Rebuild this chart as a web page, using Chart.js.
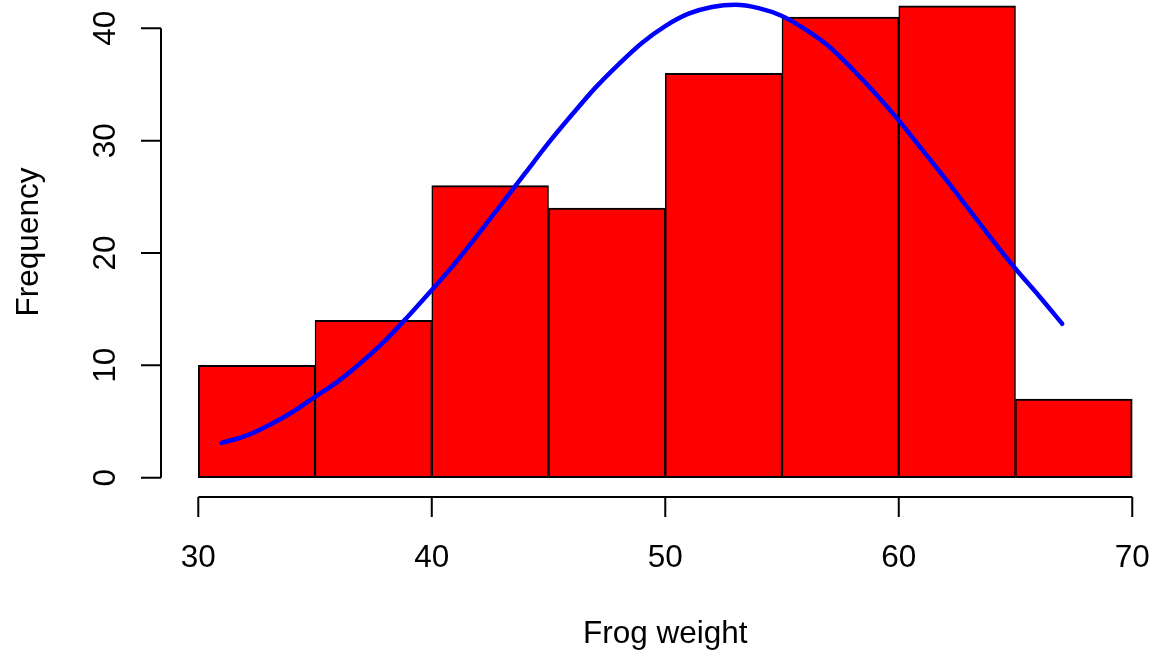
<!DOCTYPE html>
<html>
<head>
<meta charset="utf-8">
<title>Frog weight</title>
<script src="https://cdn.jsdelivr.net/npm/chart.js@4.4.1/dist/chart.umd.min.js"></script>
<style>
  html, body { margin: 0; padding: 0; background: #ffffff; overflow: hidden; }
  #wrap { width: 1157px; height: 654px; }
</style>
</head>
<body>
<div id="wrap"><canvas id="hist" width="1157" height="654"></canvas></div>
<script>
// Histogram bins (class edges) and counts per bin
const binEdges = [30, 35, 40, 45, 50, 55, 60, 65, 70];
const frequencies = [10, 14, 26, 24, 36, 41, 42, 7];

// Fitted normal curve, scaled to counts
const curveX = [31, 32, 33, 34, 35, 36, 37, 38, 39, 40, 41, 42, 43, 44, 45, 46, 47, 48, 49,
                50, 51, 52, 53, 54, 55, 56, 57, 58, 59, 60, 61, 62, 63, 64, 65, 66, 67];
const curveY = [3.1, 3.7, 4.65, 5.8, 7.2, 8.6, 10.3, 12.2, 14.4, 16.7, 19.1, 21.7, 24.4, 27.1, 29.8, 32.3, 34.7, 36.8, 38.7,
                40.2, 41.3, 41.9, 42.1, 41.8, 41.1, 39.9, 38.4, 36.4, 34.2, 31.8, 29.2, 26.6, 23.9, 21.2, 18.6, 16.2, 13.7];

// Axis tick labels
const xTicks = [30, 40, 50, 60, 70];
const yTicks = [0, 10, 20, 30, 40];

// Axis titles
const xTitle = 'Frog weight';
const yTitle = 'Frequency';

const FONT = '31.5px "Liberation Sans", Arial, Helvetica, sans-serif';

const barPoints = frequencies.map((f, i) => ({ x: (binEdges[i] + binEdges[i + 1]) / 2, y: f }));
const curvePoints = curveX.map((x, i) => ({ x: x, y: curveY[i] }));
const lastBar = frequencies.length - 1;

// Base-graphics style axes: detached lines spanning first to last tick, outward ticks
const baseAxes = {
  id: 'baseAxes',
  afterDraw(chart) {
    const ctx = chart.ctx;
    const xs = chart.scales.x, ys = chart.scales.y;
    const area = chart.chartArea;
    const tickLen = 20;
    ctx.save();
    ctx.strokeStyle = '#000000';
    ctx.fillStyle = '#000000';
    ctx.lineWidth = 2;
    ctx.lineCap = 'butt';
    ctx.font = FONT;

    // x axis
    const axisY = area.bottom;
    const x0 = xs.getPixelForValue(xTicks[0]);
    const x1 = xs.getPixelForValue(xTicks[xTicks.length - 1]);
    ctx.beginPath();
    ctx.moveTo(x0, axisY);
    ctx.lineTo(x1, axisY);
    xTicks.forEach(v => {
      const px = xs.getPixelForValue(v);
      ctx.moveTo(px, axisY);
      ctx.lineTo(px, axisY + tickLen);
    });
    ctx.stroke();
    ctx.textAlign = 'center';
    ctx.textBaseline = 'alphabetic';
    xTicks.forEach(v => {
      ctx.fillText(String(v), xs.getPixelForValue(v), 567);
    });
    ctx.fillText(xTitle, (area.left + xs.getPixelForValue(71.6)) / 2, 643);

    // y axis
    const axisX = area.left;
    const y0 = ys.getPixelForValue(yTicks[0]);
    const y1 = ys.getPixelForValue(yTicks[yTicks.length - 1]);
    ctx.beginPath();
    ctx.moveTo(axisX, y0);
    ctx.lineTo(axisX, y1);
    yTicks.forEach(v => {
      const py = ys.getPixelForValue(v);
      ctx.moveTo(axisX, py);
      ctx.lineTo(axisX - tickLen, py);
    });
    ctx.stroke();
    yTicks.forEach(v => {
      ctx.save();
      ctx.translate(115, ys.getPixelForValue(v));
      ctx.rotate(-Math.PI / 2);
      ctx.fillText(String(v), 0, 0);
      ctx.restore();
    });
    ctx.save();
    ctx.translate(37.5, (ys.getPixelForValue(43.68) + area.bottom) / 2);
    ctx.rotate(-Math.PI / 2);
    ctx.fillText(yTitle, 0, 0);
    ctx.restore();
    ctx.restore();
  }
};

new Chart(document.getElementById('hist'), {
  data: {
    datasets: [
      {
        type: 'line',
        label: 'Normal curve',
        data: curvePoints,
        borderColor: '#0000FF',
        borderWidth: 4.5,
        borderCapStyle: 'round',
        borderJoinStyle: 'round',
        pointRadius: 0,
        fill: false,
        cubicInterpolationMode: 'monotone',
        order: 0
      },
      {
        type: 'bar',
        label: 'Frequency',
        data: barPoints,
        backgroundColor: '#FF0000',
        borderColor: '#000000',
        borderSkipped: false,
        borderWidth: (c) => ({
          top: 2,
          bottom: 2,
          left: c.dataIndex === 0 ? 2 : 1.5,
          right: c.dataIndex === lastBar ? 2 : 1.5
        }),
        barPercentage: 1,
        categoryPercentage: 1,
        order: 1
      }
    ]
  },
  options: {
    responsive: false,
    animation: false,
    events: [],
    layout: { padding: { left: 161, right: 0, top: 0, bottom: 157 } },
    plugins: { legend: { display: false }, tooltip: { enabled: false } },
    scales: {
      x: { type: 'linear', display: false, offset: false, grid: { offset: false }, min: 28.403, max: 71.06 },
      y: { type: 'linear', display: false, min: -1.718, max: 42.52 }
    }
  },
  plugins: [baseAxes]
});
</script>
</body>
</html>
